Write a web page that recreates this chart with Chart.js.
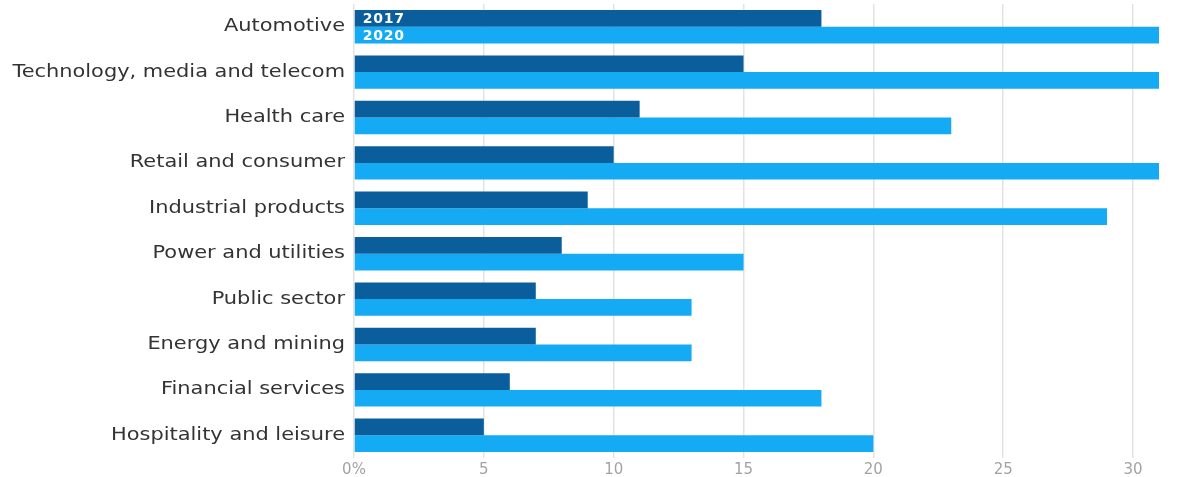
<!DOCTYPE html>
<html>
<head>
<meta charset="utf-8">
<script src="https://cdn.jsdelivr.net/npm/chart.js@4/dist/chart.umd.min.js"></script>
<style>
  html, body { margin: 0; padding: 0; background: #fff; }
  #wrap { width: 1178px; height: 477px; }
</style>
</head>
<body>
<div id="wrap"><canvas id="chart"></canvas></div>
<script>
const categories = [
  "Automotive",
  "Technology, media and telecom",
  "Health care",
  "Retail and consumer",
  "Industrial products",
  "Power and utilities",
  "Public sector",
  "Energy and mining",
  "Financial services",
  "Hospitality and leisure"
];
const values2017 = [18, 15, 11, 10, 9, 8, 7, 7, 6, 5];
const values2020 = [31, 31, 23, 31, 29, 15, 13, 13, 18, 20];
const tickValues = [0, 5, 10, 15, 20, 25, 30];

// writes the series name inside the first bar of each dataset
const barNames = {
  id: "barNames",
  afterDatasetsDraw(chart) {
    const ctx = chart.ctx;
    ctx.save();
    ctx.fillStyle = "#ffffff";
    ctx.font = "bold 14px 'DejaVu Sans'";
    ctx.letterSpacing = "0.8px";
    ctx.textBaseline = "middle";
    ctx.textAlign = "left";
    chart.data.datasets.forEach((ds, i) => {
      const bar = chart.getDatasetMeta(i).data[0];
      if (!bar) return;
      ctx.fillText(ds.label, bar.base + 8, bar.y + 1);
    });
    ctx.restore();
  }
};

// the category labels in the original use a wide typeface: stretch them
// sideways around their right edge so they keep their alignment
const wideLabels = {
  id: "wideLabels",
  afterLayout(chart) {
    const scale = chart.scales.y;
    if (!scale || scale._wide) return;
    const orig = scale.drawLabels;
    scale.drawLabels = function (area) {
      const ctx = this.ctx;
      const pivot = this.right - this.options.ticks.padding;
      ctx.save();
      ctx.translate(pivot, 0);
      ctx.scale(1.23, 1);
      ctx.translate(-pivot, 0);
      orig.call(this, area);
      ctx.restore();
    };
    scale._wide = true;
  }
};

new Chart(document.getElementById("chart"), {
  type: "bar",
  data: {
    labels: categories,
    datasets: [
      {
        label: "2017",
        data: values2017,
        backgroundColor: "#0b5e9c",
        categoryPercentage: 0.735,
        barPercentage: 1.0
      },
      {
        label: "2020",
        data: values2020,
        backgroundColor: "#14aaf4",
        categoryPercentage: 0.735,
        barPercentage: 1.0
      }
    ]
  },
  options: {
    indexAxis: "y",
    responsive: true,
    maintainAspectRatio: false,
    animation: false,
    layout: { padding: { top: 4, right: 19, left: 0, bottom: 0 } },
    plugins: {
      legend: { display: false },
      tooltip: { enabled: false }
    },
    scales: {
      x: {
        min: 0,
        max: 31,
        afterBuildTicks: (scale) => {
          scale.ticks = tickValues.map((v) => ({ value: v }));
        },
        afterFit: (scale) => {
          scale.height = 19;
          scale.paddingLeft = 0;
          scale.paddingRight = 0;
        },
        border: { display: false },
        grid: { color: "#e3e3e3", lineWidth: 1.5, drawTicks: false },
        ticks: {
          color: "#a3a3a3",
          padding: 3,
          font: { family: "'DejaVu Sans'", size: 15 },
          callback: (value) => (value === 0 ? "0%" : String(value))
        }
      },
      y: {
        afterFit: (scale) => {
          scale.width = 354;
          scale.paddingTop = 0;
          scale.paddingBottom = 0;
        },
        border: { display: false },
        grid: { display: false, drawTicks: false },
        ticks: {
          color: "#333333",
          padding: 9,
          font: { family: "'DejaVu Sans'", size: 17 }
        }
      }
    }
  },
  plugins: [barNames, wideLabels]
});
</script>
</body>
</html>
